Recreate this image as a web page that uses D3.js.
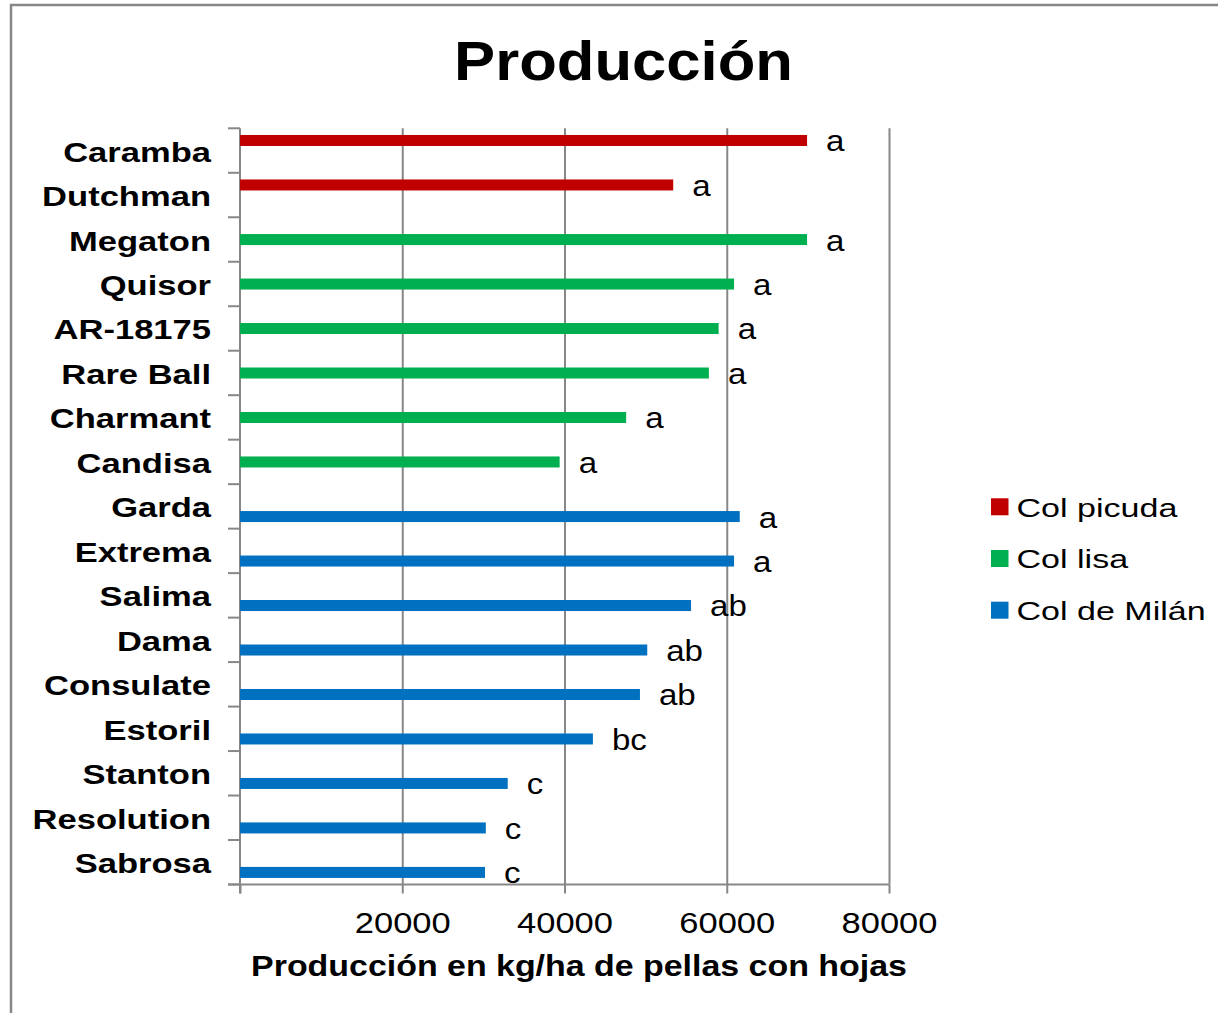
<!DOCTYPE html>
<html>
<head>
<meta charset="utf-8">
<script src="https://cdn.jsdelivr.net/npm/d3@7"></script>
<style>
  html, body { margin:0; padding:0; background:#fff; }
  svg { display:block; font-family:"Liberation Sans", Arial, sans-serif; }
</style>
</head>
<body>
<svg id="chart" width="1218" height="1013"></svg>
<script>
// data
const categories = ["Caramba","Dutchman","Megaton","Quisor","AR-18175","Rare Ball","Charmant","Candisa",
  "Garda","Extrema","Salima","Dama","Consulate","Estoril","Stanton","Resolution","Sabrosa"];
const seriesNames = ["Col picuda","Col lisa","Col de Milán"];
const seriesColors = ["#C00000","#00B050","#0070C0"];
const seriesOf = ["Col picuda","Col picuda","Col lisa","Col lisa","Col lisa","Col lisa","Col lisa","Col lisa",
  "Col de Milán","Col de Milán","Col de Milán","Col de Milán","Col de Milán","Col de Milán","Col de Milán","Col de Milán","Col de Milán"];
const values = [69900,53400,69900,60900,59000,57800,47600,39400,61600,60900,55600,50200,49300,43500,33000,30300,30200];
const letters = ["a","a","a","a","a","a","a","a","a","a","ab","ab","ab","bc","c","c","c"];
const xTicks = [0,20000,40000,60000,80000];

const svg = d3.select("#chart");
const grey = "#878787";
const plot = { left:240, right:889, top:128.3, bottom:884.5 };

// frame
svg.append("rect").attr("x",11).attr("y",5).attr("width",1240).attr("height",1040)
  .attr("fill","none").attr("stroke",grey).attr("stroke-width",2.5);

const x = d3.scaleLinear().domain([0,80000]).range([plot.left, plot.right]);
const y0 = d3.scaleBand().domain(categories).range([plot.top, plot.bottom]).padding(0);
const y1 = d3.scaleBand().domain(seriesNames).range([0, y0.bandwidth()]).paddingInner(0).paddingOuter(0.7);
const color = d3.scaleOrdinal(seriesNames, seriesColors);

// helper for horizontally stretched text
function stretched(parent, tx, ty, sx, txt, opts){
  const t = parent.append("g").attr("transform",`translate(${tx},${ty}) scale(${sx},1)`)
    .append("text").attr("text-anchor", opts.anchor||"start")
    .attr("font-size", opts.size).attr("font-weight", opts.weight||"normal")
    .attr("fill","#000").text(txt);
  return t;
}

// title
stretched(svg, 623.5, 80, 1.1, "Producción", { anchor:"middle", size:56, weight:"bold" });

// gridlines
const grid = svg.append("g").attr("transform",`translate(0,${plot.bottom})`)
  .call(d3.axisBottom(x).tickValues(xTicks.slice(1)).tickSize(-(plot.bottom-plot.top)).tickFormat(""));
grid.select(".domain").remove();
grid.selectAll("line").attr("stroke",grey).attr("stroke-width",2);

// x axis
const xa = svg.append("g").attr("transform",`translate(0,${plot.bottom})`)
  .call(d3.axisBottom(x).tickValues(xTicks).tickSize(9).tickSizeOuter(0).tickFormat(d=> d===0 ? "" : d));
xa.select(".domain").attr("stroke",grey).attr("stroke-width",2).attr("d",`M${plot.left-12},0H${plot.right}`);
xa.selectAll(".tick line").attr("stroke",grey).attr("stroke-width",2);
xa.selectAll(".tick text").attr("y",null).attr("dy",null)
  .attr("transform","translate(0,48.8) scale(1.15,1)")
  .attr("font-size",30).attr("fill","#000").attr("font-family","Liberation Sans, Arial, sans-serif");

// axis title
stretched(svg, 579, 976, 1.17, "Producción en kg/ha de pellas con hojas", { anchor:"middle", size:29, weight:"bold" });

// category axis line + ticks at band edges
svg.append("line").attr("x1",plot.left).attr("x2",plot.left).attr("y1",plot.top).attr("y2",plot.bottom+9)
  .attr("stroke",grey).attr("stroke-width",2);
const edges = categories.map(c=> y0(c)).concat([plot.bottom]);
svg.append("g").selectAll("line").data(edges).join("line")
  .attr("x1",plot.left-12).attr("x2",plot.left).attr("y1",d=>d).attr("y2",d=>d)
  .attr("stroke",grey).attr("stroke-width",2);

// category labels
const catG = svg.append("g");
categories.forEach(c=>{
  stretched(catG, 211, y0(c) + y0.bandwidth()/2 + 11, 1.28, c, { anchor:"end", size:27, weight:"bold" });
});

// bars
const rows = categories.map((c,i)=> ({ cat:c, series:seriesOf[i], value:values[i], letter:letters[i] }));
svg.append("g").selectAll("rect").data(rows).join("rect")
  .attr("x", x(0))
  .attr("y", d=> y0(d.cat) + y1(d.series) - 0.4)
  .attr("width", d=> x(d.value) - x(0))
  .attr("height", y1.bandwidth() + 0.9)
  .attr("fill", d=> color(d.series));

// significance letters
const lab = svg.append("g");
rows.forEach(d=>{
  stretched(lab, x(d.value) + 19, y0(d.cat) + y1(d.series) + y1.bandwidth()/2 + 11, 1.14, d.letter, { size:29 });
});

// legend
const leg = svg.append("g");
seriesNames.forEach((s,i)=>{
  const ly = 498.3 + i*51.7;
  leg.append("rect").attr("x",991).attr("y",ly).attr("width",17.5).attr("height",17).attr("fill",color(s));
  stretched(leg, 1016.5, ly + 18.4, 1.33, s, { size:25.6 });
});
</script>
</body>
</html>
